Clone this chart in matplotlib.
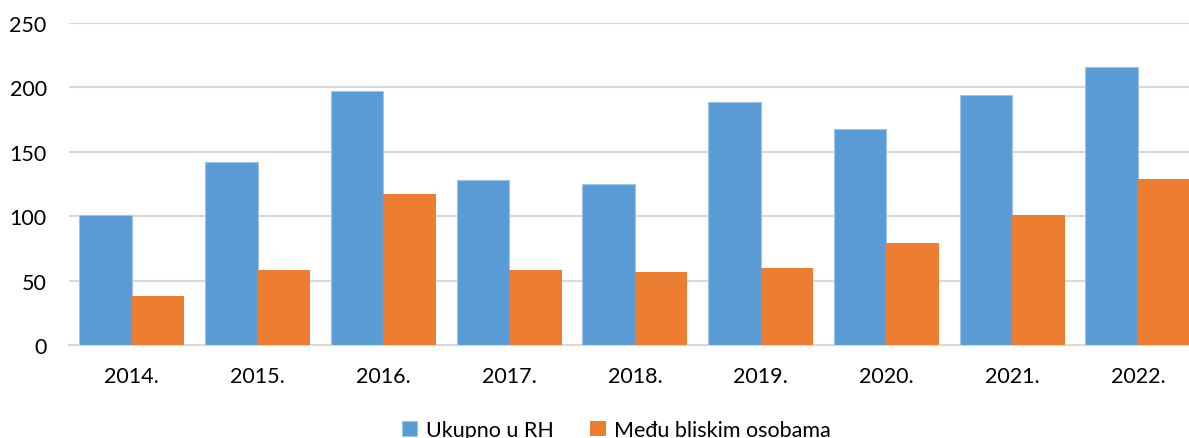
import matplotlib.pyplot as plt
import numpy as np

plt.rcParams["font.family"] = ["Lato", "DejaVu Sans"]

years = ["2014.", "2015.", "2016.", "2017.", "2018.", "2019.", "2020.", "2021.", "2022."]
ukupno = [101, 142, 197, 128, 125, 189, 168, 194, 216]
bliske = [38, 58, 117, 58, 57, 60, 79, 101, 129]
y_ticks = [0, 50, 100, 150, 200, 250]

blue = "#5B9BD5"
orange = "#ED7D31"

fig = plt.figure(figsize=(11.89, 4.39), dpi=100)
# plot area runs past the right edge, as in the original export
ax = fig.add_axes([0.058, 0.2118, 0.952, 0.7335])

x = np.arange(len(years))
w = 0.418
ax.bar(x - w / 2, ukupno, w, color=blue, edgecolor="#9DC3E6", linewidth=0.8,
       label="Ukupno u RH", zorder=3)
ax.bar(x + w / 2, bliske, w, color=orange, edgecolor=orange, linewidth=0.0,
       label="Među bliskim osobama", zorder=3)

ax.set_xlim(-0.5, len(years) - 0.5)
ax.set_ylim(0, 250)
ax.set_yticks(y_ticks)
ax.set_xticks(x)
ax.set_xticklabels(years)
ax.yaxis.grid(True, color="#D9D9D9", linewidth=1.5, zorder=0)
ax.tick_params(axis="both", length=0, labelsize=15.5, colors="#000000")
ax.tick_params(axis="x", pad=15)
ax.tick_params(axis="y", pad=16)
for s in ["top", "right", "left"]:
    ax.spines[s].set_visible(False)
ax.spines["bottom"].set_color("#D9D9D9")
ax.spines["bottom"].set_linewidth(1.5)

fig.legend(loc="center", bbox_to_anchor=(0.5185, 0.018), ncol=2, frameon=False,
           fontsize=15.5, handlelength=0.72, handleheight=0.72, handletextpad=0.4,
           columnspacing=1.7)

fig.savefig("out.png", dpi=100)
